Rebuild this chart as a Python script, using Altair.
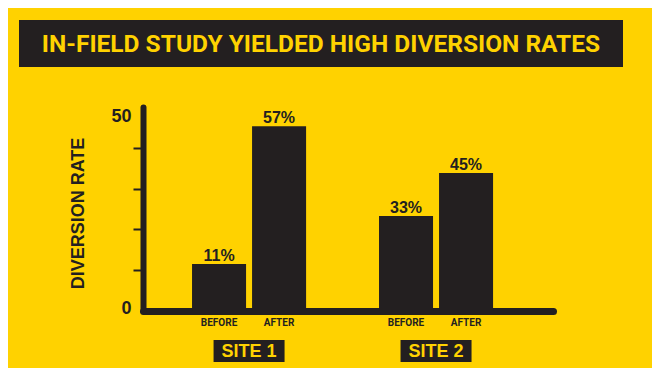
import altair as alt
import pandas as pd

# Data
sites = ["SITE 1", "SITE 1", "SITE 2", "SITE 2"]
phases = ["BEFORE", "AFTER", "BEFORE", "AFTER"]
bar_heights = [11.5, 45.3, 23.3, 33.8]   # heights as drawn against the axis
bar_labels = ["11%", "57%", "33%", "45%"]
site_names = ["SITE 1", "SITE 2"]
y_ticks = [0, 10, 20, 30, 40, 50]
title_text = "IN-FIELD STUDY YIELDED HIGH DIVERSION RATES"

YELLOW = "#FFD200"
DARK = "#231F20"
NARROW = "Roboto, sans-serif"
SANS = "Liberation Sans, Arial, sans-serif"

df = pd.DataFrame({"site": sites, "phase": phases, "height": bar_heights, "label": bar_labels})
sites_df = pd.DataFrame({"site": site_names})
title_df = pd.DataFrame({"t": [title_text]})

x_enc = alt.X("site:N",
              scale=alt.Scale(domain=site_names, paddingInner=0.39, paddingOuter=0.2914, align=0.45),
              axis=alt.Axis(title=None, labels=False, ticks=False, domain=True,
                            domainColor=DARK, domainWidth=7, domainCap="round"))
xo_enc = alt.XOffset("phase:N", sort=["BEFORE", "AFTER"],
                     scale=alt.Scale(domain=["BEFORE", "AFTER"], paddingInner=0.1, paddingOuter=0))
y_scale = alt.Scale(domain=[0, 50], nice=False, zero=True)

y_axis = alt.Axis(
    values=y_ticks,
    title="DIVERSION RATE",
    titleFont=SANS, titleFontSize=18, titleFontWeight="bold", titleColor=DARK,
    titleAngle=-90, titleX=-65, titleY=106, titleAlign="center", titleBaseline="middle",
    labelExpr="(datum.value == 0 || datum.value == 50) ? datum.label : ''",
    labelFont=SANS, labelFontSize=18, labelFontWeight="bold", labelColor=DARK,
    labelPadding=2,
    labelOffset={"condition": {"test": "datum.value == 50", "value": 9}, "value": -3},
    tickSize=10, tickWidth=2, tickColor=DARK,
    tickOpacity={"condition": {"test": "datum.value == 0 || datum.value == 50", "value": 0}, "value": 1},
    domainColor=DARK, domainWidth=6, domainCap="round",
    grid=False,
)

base = alt.Chart(df).encode(x=x_enc, xOffset=xo_enc)

bars = base.mark_bar(color=DARK).encode(
    y=alt.Y("height:Q", scale=y_scale, axis=y_axis)
)

value_text = base.mark_text(font=SANS, fontSize=16, fontWeight="bold", color=DARK,
                            baseline="alphabetic", dy=-3).encode(
    y=alt.Y("height:Q", scale=y_scale), text="label:N"
)

phase_text = base.mark_text(font=NARROW, fontSize=10, fontWeight="bold", color=DARK,
                            baseline="middle", dy=12).encode(
    y=alt.datum(0), text="phase:N"
)

site_box = alt.Chart(sites_df).mark_bar(color=DARK, width=71).encode(
    x=alt.X("site:N"), y=alt.value(233), y2=alt.value(255)
)
site_text = alt.Chart(sites_df).mark_text(font=SANS, fontSize=18, fontWeight="bold",
                                          color=YELLOW, baseline="middle", dy=1).encode(
    x=alt.X("site:N"), y=alt.value(244), text="site:N"
)

title_rect = alt.Chart(title_df).mark_rect(color=DARK).encode(
    x=alt.value(-124), x2=alt.value(480), y=alt.value(-87), y2=alt.value(-40)
)
title_mark = alt.Chart(title_df).mark_text(font=NARROW, fontSize=24.5, fontWeight="bold",
                                           color=YELLOW, align="center", baseline="middle").encode(
    x=alt.value(178), y=alt.value(-62), text="t:N"
)

chart = alt.layer(
    title_rect, title_mark, bars, value_text, phase_text, site_box, site_text
).properties(
    width=410, height=204,
    autosize=alt.AutoSizeParams(type="none"),
    padding={"left": 135, "top": 99, "right": 99, "bottom": 57},
    background=YELLOW,
).configure_view(strokeWidth=0)

chart.save("out.html", embed_options={"renderer": "svg", "actions": False})
